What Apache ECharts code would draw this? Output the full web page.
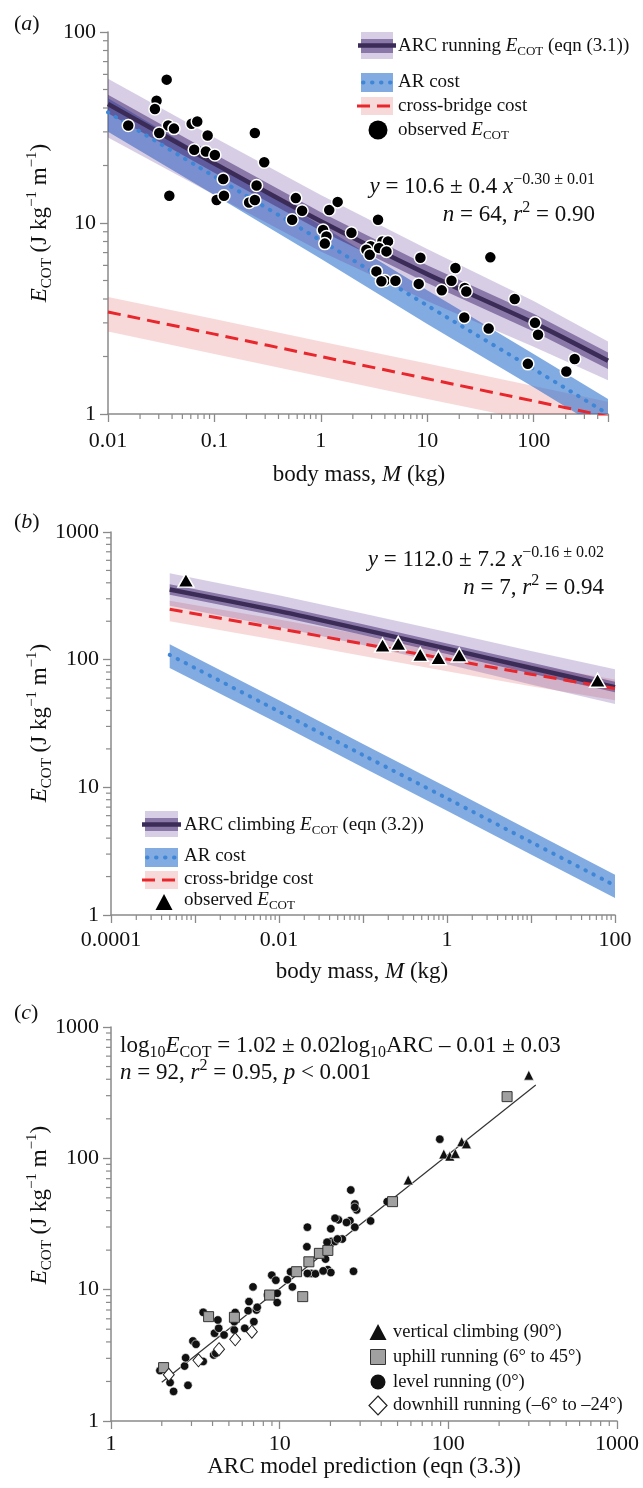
<!DOCTYPE html>
<html><head><meta charset="utf-8">
<script src="https://cdn.jsdelivr.net/npm/echarts@6/dist/echarts.min.js"></script>
<style>html,body{margin:0;padding:0;background:#fff}#c{width:643px;height:1488px}</style>
</head><body><div id="c"></div>
<script>
// ---------- Panel (a) data ----------
const xTicksA = ['0.01','0.1','1','10','100'];
const yTicksA = ['1','10','100'];
const massA = [0.01, 0.1, 1, 10, 100, 500];
const arcA = [42, 20.5, 10.2, 5.4, 3.0, 1.9];
const arcAUpper = [57, 28, 14, 7.3, 3.9, 2.4];
const arcALower = [28, 14, 7.1, 3.9, 2.25, 1.5];
const arcAInnerUpper = [47, 23, 11.4, 6.0, 3.35, 2.1];
const arcAInnerLower = [37.5, 18.3, 9.1, 4.85, 2.7, 1.72];
const arA = [38, 17.5, 8.1, 3.7, 1.72, 1.0];
const arAUpper = [45, 21, 9.7, 4.45, 2.06, 1.2];
const arALower = [30, 14, 6.5, 2.96, 1.38, 0.8];
const xbA = [3.42, 2.62, 2.0, 1.53, 1.17, 0.97];
const xbAUpper = [4.1, 3.14, 2.4, 1.84, 1.4, 1.16];
const xbALower = [2.7, 2.06, 1.57, 1.2, 0.92, 0.76];
const obsMassA = [0.0356,0.0286,0.0276,0.0155,0.0368,0.0417,0.0303,0.0611,0.069,0.0864,0.0646,0.0832,0.101,0.24,0.294,0.121,0.249,0.0377,0.105,0.123,0.212,0.24,0.582,0.667,0.538,1.2,1.44,3.45,1.05,1.13,1.94,1.09,2.94,2.68,2.88,3.79,4.28,3.53,4.14,8.63,39.2,18.4,16.9,22.5,23.3,13.7,8.32,3.33,3.99,5.03,3.71,66.4,22.3,37.8,103,110,243,88.3,203];
const obsCostA = [56.3,43.7,39.5,32.4,32.4,31.2,29.6,33.1,34.0,28.7,24.2,23.7,22.7,29.6,20.8,17.0,15.7,13.9,13.2,13.9,12.8,13.2,13.5,11.6,10.4,11.7,12.9,10.4,9.2,8.5,8.9,7.8,7.55,7.25,6.82,8.01,8.01,7.4,7.1,6.58,6.61,5.81,4.99,4.57,4.38,4.44,4.8,5.58,5.0,4.99,4.95,4.0,3.2,2.8,3.0,2.6,1.94,1.83,1.67];

// ---------- Panel (b) data ----------
const xTicksB = ['0.0001','0.01','1','100'];
const yTicksB = ['1','10','100','1000'];
const massB = [0.0005, 0.01, 0.1, 1, 10, 100];
const arcB = [355, 240, 172, 122, 86, 61];
const arcBUpper = [476, 320, 230, 165, 117, 84];
const arcBLower = [265, 180, 130, 92, 64, 45];
const arcBInnerUpper = [390, 264, 189, 134, 95, 67];
const arcBInnerLower = [323, 218, 156, 111, 78, 55.5];
const arB = [109, 39.3, 17.9, 8.2, 3.73, 1.70];
const arBUpper = [132, 48, 21.8, 10, 4.55, 2.07];
const arBLower = [86, 31.5, 14.3, 6.55, 2.98, 1.36];
const xbB = [248, 175, 133, 101, 77, 59.5];
const xbBUpper = [290, 206, 157, 119, 91, 70];
const xbBLower = [200, 141, 107, 81, 62, 48];
const obsMassB = [0.00078, 0.171, 0.263, 0.48, 0.79, 1.40, 62];
const obsCostB = [420, 130, 134, 110, 103.5, 108.7, 69];

// ---------- Panel (c) data ----------
const xTicksC = ['1','10','100','1000'];
const yTicksC = ['1','10','100','1000'];
const fitArcC = [2, 330];
const fitCotC = [1.97, 362];
const climbArc = [300, 120, 128, 94, 102, 110, 57.8];
const climbCot = [430, 134, 129, 108, 104, 109, 68.5];
const uphillArc = [223, 46.7, 17.2, 19.3, 14.9, 12.6, 8.72, 13.7, 3.79, 5.39, 2.05];
const uphillCot = [295, 46.8, 18.9, 19.9, 16.3, 13.7, 9.1, 8.85, 6.23, 6.16, 2.55];
const levelArc = [1.95,2.24,2.35,2.86,2.73,2.77,3.06,3.19,3.52,3.52,4.06,4.18,4.11,4.35,4.3,4.68,5.38,5.38,5.45,6.21,6.5,6.58,6.95,7.03,7.28,7.36,8.47,8.98,9.49,9.67,9.67,11.1,11.9,11.6,14.5,15.4,16.3,18.7,19.3,20.1,20.2,21.3,23.5,27.4,89,43.4,26.4,27.9,28.6,27.9,34.6,26.1,27.9,24.9,22.3,21.3,20.1,14.6,22,19.1,14.6,18.1];
const levelCot = [2.42,1.96,1.68,1.87,2.62,3.03,4.07,3.84,6.72,2.84,3.18,3.28,4.66,5.08,5.88,4.52,4.94,5.71,6.7,5.08,6.92,8.11,10.5,5.71,7.0,7.34,9.12,12.9,11.8,9.38,7.97,11.9,10.5,13.7,21.2,13.3,13.2,17.1,14.2,13.5,23.3,23.3,24.3,13.8,140,46.8,57.4,45,40.5,42.4,33.4,33.5,29.9,32.5,34.0,35,29.1,29.9,24.3,23,13.3,13.9];
const downhillArc = [2.2, 3.3, 4.37, 5.45, 6.84];
const downhillCot = [2.25, 2.9, 3.52, 4.19, 4.79];

// ---------- styling ----------
const FONT = '"Liberation Serif","DejaVu Serif","Times New Roman",serif';
const AXIS = '#8a8a8a';
const LAV = 'rgba(95,60,150,0.25)';
const INNER = 'rgba(75,50,120,0.55)';
const BLUE = 'rgba(40,110,205,0.58)';
const PINK = 'rgba(220,80,80,0.22)';
const ARCLINE = '#3b2b57';
const DOT = '#3f86d6';
const RED = '#e8262b';
const MINOR = [2,3,4,5,6,7,8,9];
const TICKFONT = 22;

function fmt(labels){ return v => { for (const s of labels) { if (Math.abs(Math.log10(+s) - Math.log10(v)) < 1e-6) return s; } return ''; }; }
function minorVals(lo, hi){ const out=[]; for (let e=Math.floor(Math.log10(lo)); e<=Math.ceil(Math.log10(hi)); e++) for (const m of MINOR){ const v=m*Math.pow(10,e); if (v>lo*1.0001 && v<hi*0.9999) out.push(v);} return out; }

function xAx(g, min, max, labels, margin){
  return {type:'log', logBase:10, gridIndex:g, min, max, position:'bottom',
    axisLine:{show:true, onZero:false, lineStyle:{color:AXIS, width:1.5}},
    axisTick:{show:true, inside:false, length:8, lineStyle:{color:AXIS, width:1.3}},
    axisLabel:{show:true, formatter: fmt(labels), color:'#111', fontFamily:FONT, fontSize:TICKFONT, margin},
    splitLine:{show:false}, minorTick:{show:false}, minorSplitLine:{show:false}};
}
function yAx(g, min, max, labels){
  return {type:'log', logBase:10, gridIndex:g, min, max, position:'left',
    axisLine:{show:true, onZero:false, lineStyle:{color:AXIS, width:1.5}},
    axisTick:{show:true, inside:false, length:8, lineStyle:{color:AXIS, width:1.3}},
    axisLabel:{show:true, formatter: fmt(labels), color:'#111', fontFamily:FONT, fontSize:TICKFONT, margin:12},
    splitLine:{show:false}, minorTick:{show:false}, minorSplitLine:{show:false}};
}
function clipPoly(pts, r){
  const edges = [
    p => p[0] >= r.x, p => p[0] <= r.x + r.width, p => p[1] >= r.y, p => p[1] <= r.y + r.height];
  const inter = [
    (a,b)=>{const t=(r.x-a[0])/(b[0]-a[0]); return [r.x, a[1]+t*(b[1]-a[1])];},
    (a,b)=>{const X=r.x+r.width; const t=(X-a[0])/(b[0]-a[0]); return [X, a[1]+t*(b[1]-a[1])];},
    (a,b)=>{const t=(r.y-a[1])/(b[1]-a[1]); return [a[0]+t*(b[0]-a[0]), r.y];},
    (a,b)=>{const Y=r.y+r.height; const t=(Y-a[1])/(b[1]-a[1]); return [a[0]+t*(b[0]-a[0]), Y];}];
  let out = pts;
  for (let k=0;k<4;k++){
    const inp = out; out = [];
    for (let i=0;i<inp.length;i++){
      const cur = inp[i], prev = inp[(i+inp.length-1)%inp.length];
      const ci = edges[k](cur), pi = edges[k](prev);
      if (ci){ if (!pi) out.push(inter[k](prev,cur)); out.push(cur); }
      else if (pi) out.push(inter[k](prev,cur));
    }
  }
  return out;
}
function band(g, xs, lo, hi, color, z){
  return {type:'custom', xAxisIndex:g, yAxisIndex:g, silent:true, z,
    data: xs.map((x,i)=>[x, lo[i], hi[i]]),
    renderItem:(params, api)=>{
      if (params.dataIndex !== 0) return null;
      const top=[], bot=[];
      for (let i=0;i<xs.length;i++){
        top.push(api.coord([api.value(0,i), api.value(2,i)]));
        bot.push(api.coord([api.value(0,i), api.value(1,i)]));
      }
      const poly = clipPoly(top.concat(bot.reverse()), params.coordSys);
      return {type:'polygon', shape:{points:poly}, style:{fill:color}};
    }};
}
function line(g, xs, ys, style, z){
  return {type:'line', xAxisIndex:g, yAxisIndex:g, data: xs.map((x,i)=>[x, ys[i]]), showSymbol:false, symbol:'none', smooth:0.3, z, silent:true, lineStyle:style, clip:true};
}
function ticks(g, xMin, xMax, yMin, yMax){
  const data = minorVals(xMin,xMax).map(v=>[v,yMin,0]).concat(minorVals(yMin,yMax).map(v=>[xMin,v,1]));
  return {type:'custom', xAxisIndex:g, yAxisIndex:g, silent:true, z:20, clip:false, data,
    renderItem:(p, api)=>{ const pt = api.coord([api.value(0), api.value(1)]); const d = api.value(2);
      return {type:'line', shape: d===0 ? {x1:pt[0], y1:pt[1], x2:pt[0], y2:pt[1]+5} : {x1:pt[0], y1:pt[1], x2:pt[0]-5, y2:pt[1]}, style:{stroke:AXIS, lineWidth:1.2}}; }};
}
function scatter(g, xs, ys, symbol, size, color, border, bw, z){
  return {type:'scatter', xAxisIndex:g, yAxisIndex:g, data: xs.map((x,i)=>[x, ys[i]]), symbol, symbolSize:size, z, silent:true,
    itemStyle:{color, borderColor:border, borderWidth:bw, opacity:1}};
}

function R(size, sub){
  return {
    i:{fontFamily:FONT, fontSize:size, fontStyle:'italic', lineHeight:Math.round(size*1.3)},
    sub:{fontFamily:FONT, fontSize:sub, verticalAlign:'bottom', lineHeight:sub},
    sup:{fontFamily:FONT, fontSize:sub, verticalAlign:'top', lineHeight:sub}
  };
}
function T(x, y, text, size, sub, align, extra){
  return Object.assign({type:'text', x, y, z:100, silent:true,
    style:{text, fontFamily:FONT, fontSize:size, fill:'#111', align:align||'left', verticalAlign:'middle', lineHeight:Math.round(size*1.3), rich:R(size, sub)}}, extra||{});
}
const dotStyle = {color:DOT, width:4, type:[0.5, 8.5], cap:'round'};
const dashStyle = {color:RED, width:3, type:[13, 7]};
const arcStyle = {color:ARCLINE, width:4.5};
const YTITLE = '{i|E}{sub|COT} (J kg{sup|−1} m{sup|−1})';

const graphics = [
  // panel labels
  T(14, 24, '({i|a})', 22, 14),
  T(14, 522, '({i|b})', 22, 14),
  T(14, 1013, '({i|c})', 22, 14),
  // axis titles
  T(40, 223, YTITLE, 23, 15, 'center', {rotation:Math.PI/2}),
  T(40, 723, YTITLE, 23, 15, 'center', {rotation:Math.PI/2}),
  T(40, 1205, YTITLE, 23, 15, 'center', {rotation:Math.PI/2}),
  T(359, 475, 'body mass, {i|M} (kg)', 23, 15, 'center'),
  T(362, 972, 'body mass, {i|M} (kg)', 23, 15, 'center'),
  T(364, 1467, 'ARC model prediction (eqn (3.3))', 23, 15, 'center'),
  // equations
  T(595, 187, '{i|y} = 10.6 ± 0.4 {i|x}{sup|−0.30 ± 0.01}', 23, 16, 'right'),
  T(595, 215, '{i|n} = 64, {i|r}{sup|2} = 0.90', 23, 16, 'right'),
  T(604, 560, '{i|y} = 112.0 ± 7.2 {i|x}{sup|−0.16 ± 0.02}', 23, 16, 'right'),
  T(604, 588, '{i|n} = 7, {i|r}{sup|2} = 0.94', 23, 16, 'right'),
  T(120, 1046, 'log{sub|10}{i|E}{sub|COT} = 1.02 ± 0.02log{sub|10}ARC – 0.01 ± 0.03', 23, 16, 'left'),
  T(120, 1073, '{i|n} = 92, {i|r}{sup|2} = 0.95, {i|p} < 0.001', 23, 16, 'left'),
  // legend a
  {type:'rect', z:90, shape:{x:361,y:32,width:32,height:27}, style:{fill:LAV}},
  {type:'rect', z:91, shape:{x:361,y:39,width:32,height:14}, style:{fill:INNER}},
  {type:'line', z:92, shape:{x1:358,y1:45.5,x2:396,y2:45.5}, style:{stroke:ARCLINE, lineWidth:4.5}},
  T(398, 46, 'ARC running {i|E}{sub|COT} (eqn (3.1))', 19, 13),
  {type:'rect', z:90, shape:{x:361,y:73,width:32,height:19}, style:{fill:BLUE}},
  {type:'line', z:92, shape:{x1:363,y1:82.5,x2:393,y2:82.5}, style:{stroke:DOT, lineWidth:4, lineDash:[0.5,8.5], lineCap:'round'}},
  T(398, 82, 'AR cost', 19, 13),
  {type:'rect', z:90, shape:{x:361,y:97,width:32,height:18}, style:{fill:PINK}},
  {type:'line', z:92, shape:{x1:357,y1:106,x2:395,y2:106}, style:{stroke:RED, lineWidth:3, lineDash:[13,7]}},
  T(398, 106, 'cross-bridge cost', 19, 13),
  {type:'circle', z:92, shape:{cx:378, cy:130, r:9.5}, style:{fill:'#000'}},
  T(398, 130, 'observed {i|E}{sub|COT}', 19, 13),
  // legend b
  {type:'rect', z:90, shape:{x:145,y:811,width:33,height:26}, style:{fill:LAV}},
  {type:'rect', z:91, shape:{x:145,y:818,width:33,height:13}, style:{fill:INNER}},
  {type:'line', z:92, shape:{x1:142,y1:824.5,x2:181,y2:824.5}, style:{stroke:ARCLINE, lineWidth:4.5}},
  T(184, 825, 'ARC climbing {i|E}{sub|COT} (eqn (3.2))', 19, 13),
  {type:'rect', z:90, shape:{x:145,y:848,width:33,height:19}, style:{fill:BLUE}},
  {type:'line', z:92, shape:{x1:147,y1:857.5,x2:177,y2:857.5}, style:{stroke:DOT, lineWidth:4, lineDash:[0.5,8.5], lineCap:'round'}},
  T(184, 856, 'AR cost', 19, 13),
  {type:'rect', z:90, shape:{x:145,y:871,width:33,height:18}, style:{fill:PINK}},
  {type:'line', z:92, shape:{x1:142,y1:880,x2:181,y2:880}, style:{stroke:RED, lineWidth:3, lineDash:[13,7]}},
  T(184, 879, 'cross-bridge cost', 19, 13),
  {type:'polygon', z:92, shape:{points:[[164,894],[155.5,910],[172.5,910]]}, style:{fill:'#000'}},
  T(184, 900, 'observed {i|E}{sub|COT}', 19, 13),
  // legend c
  {type:'polygon', z:92, shape:{points:[[378,1324],[369.5,1340],[386.5,1340]]}, style:{fill:'#111'}},
  T(393, 1332, 'vertical climbing (90°)', 18.5, 13),
  {type:'rect', z:92, shape:{x:370.5,y:1349.5,width:15,height:15}, style:{fill:'#a0a0a0', stroke:'#333', lineWidth:1}},
  T(393, 1357, 'uphill running (6° to 45°)', 18.5, 13),
  {type:'circle', z:92, shape:{cx:378, cy:1382, r:7.5}, style:{fill:'#111'}},
  T(393, 1382, 'level running (0°)', 18.5, 13),
  {type:'polygon', z:92, shape:{points:[[378,1396],[387,1405.5],[378,1415],[369,1405.5]]}, style:{fill:'#fff', stroke:'#222', lineWidth:1.2}},
  T(393, 1405, 'downhill running (–6° to –24°)', 18.5, 13)
];

const option = {
  backgroundColor:'#fff',
  animation:false,
  grid:[
    {left:108, top:32, width:500, height:382, containLabel:false, outerBoundsMode:'none'},
    {left:111, top:532, width:504, height:383, containLabel:false, outerBoundsMode:'none'},
    {left:111, top:1027, width:506, height:394, containLabel:false, outerBoundsMode:'none'}
  ],
  xAxis:[ xAx(0, 0.01, 500, xTicksA, 16), xAx(1, 0.0001, 100, xTicksB, 14), xAx(2, 1, 1000, xTicksC, 12) ],
  yAxis:[ yAx(0, 1, 100, yTicksA), yAx(1, 1, 1000, yTicksB), yAx(2, 1, 1000, yTicksC) ],
  series:[
    band(0, massA, xbALower, xbAUpper, PINK, 1),
    band(0, massA, arALower, arAUpper, BLUE, 2),
    band(0, massA, arcALower, arcAUpper, LAV, 3),
    band(0, massA, arcAInnerLower, arcAInnerUpper, INNER, 4),
    line(0, massA, arA, dotStyle, 5),
    line(0, massA, arcA, arcStyle, 6),
    line(0, massA, xbA, dashStyle, 7),
    scatter(0, obsMassA, obsCostA, 'circle', 12, '#000', '#fff', 1.5, 8),
    ticks(0, 0.01, 500, 1, 100),

    band(1, massB, xbBLower, xbBUpper, PINK, 1),
    band(1, massB, arBLower, arBUpper, BLUE, 2),
    band(1, massB, arcBLower, arcBUpper, LAV, 3),
    band(1, massB, arcBInnerLower, arcBInnerUpper, INNER, 4),
    line(1, massB, arB, dotStyle, 5),
    line(1, massB, arcB, arcStyle, 6),
    line(1, massB, xbB, dashStyle, 7),
    scatter(1, obsMassB, obsCostB, 'triangle', [16,14], '#000', '#fff', 1.5, 8),
    ticks(1, 0.0001, 100, 1, 1000),

    line(2, fitArcC, fitCotC, {color:'#333', width:1.2}, 3),
    scatter(2, levelArc, levelCot, 'circle', 8.5, '#111', '#fff', 0.6, 5),
    scatter(2, uphillArc, uphillCot, 'rect', 10, '#a0a0a0', '#333', 1, 6),
    scatter(2, downhillArc, downhillCot, 'diamond', [11,13], '#fff', '#222', 1, 6),
    scatter(2, climbArc, climbCot, 'triangle', 10, '#111', '#fff', 0.6, 7),
    ticks(2, 1, 1000, 1, 1000)
  ],
  graphic: graphics
};
const chart = echarts.init(document.getElementById('c'), null, {renderer:'canvas', width:643, height:1488});
chart.setOption(option);
</script></body></html>
